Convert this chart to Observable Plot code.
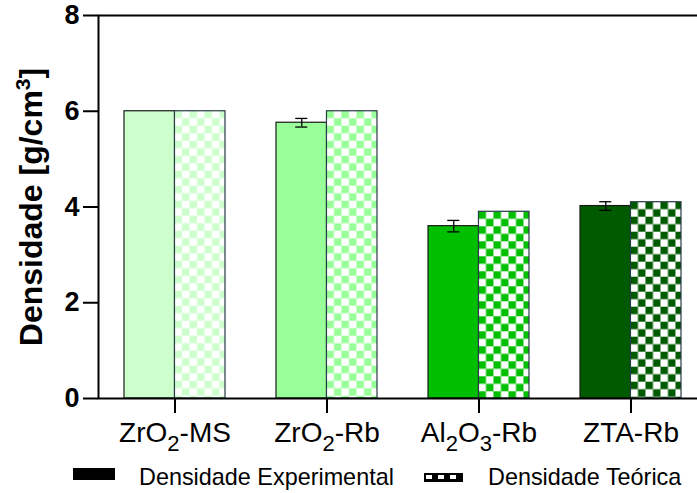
<!DOCTYPE html>
<html>
<head>
<meta charset="utf-8">
<script src="https://cdn.jsdelivr.net/npm/d3@7"></script>
<script src="https://cdn.jsdelivr.net/npm/@observablehq/plot@0.6"></script>
<style>
  html, body { margin: 0; padding: 0; background: #fff; overflow: hidden; }
  body { font-family: "Liberation Sans", Arial, sans-serif; color: #000; }
  #legend { position: relative; width: 697px; height: 38px; }
  #legend svg, #legend span { position: absolute; }
  #legend span { font-size: 23.4px; line-height: 23px; white-space: nowrap; }
</style>
</head>
<body>
<div id="chart"></div>
<div id="legend">
  <svg style="left:73px;top:13px" width="42" height="12"><rect width="42" height="12" fill="#000"/></svg>
  <span style="left:139px;top:11px">Densidade Experimental</span>
  <svg style="left:424px;top:18px" width="39" height="9">
    <rect width="39" height="9" fill="#000"/>
    <rect x="2" y="2" width="6" height="4" fill="#fff"/>
    <rect x="14" y="2" width="6" height="4" fill="#fff"/>
    <rect x="26" y="2" width="6" height="4" fill="#fff"/>
  </svg>
  <span style="left:488px;top:11px">Densidade Teórica</span>
</div>
<script>
// Density of each material: measured (with standard deviation) and theoretical, g/cm³
const categories = ["ZrO2-MS", "ZrO2-Rb", "Al2O3-Rb", "ZTA-Rb"];
const experimental = [6.00, 5.76, 3.60, 4.02];
const experimentalError = [0, 0.09, 0.12, 0.09];
const theoretical = [6.00, 6.00, 3.90, 4.10];
const barColors = ["#ccffcc", "#99ff99", "#00bf00", "#005a00"];
const yTicks = [0, 2, 4, 6, 8];
const yLabel = "Densidade [g/cm3]";

const rows = categories.map((cat, i) => ({
  cat,
  exp: experimental[i],
  err: experimentalError[i],
  theo: theoretical[i],
  color: barColors[i],
  pattern: `url(#checker-${i})`
}));

// band layout: each group holds two adjacent bars
const xRange = [98, 706];
const paddingInner = 0.336;
const step = (xRange[1] - xRange[0]) / categories.length;
const bw = step * (1 - paddingInner);
const half = bw / 2;
const cap = 6;
const cell = 7.5;

const chart = Plot.plot({
  width: 697,
  height: 455,
  marginLeft: 98,
  marginRight: -2,
  marginTop: 15,
  marginBottom: 57,
  style: { fontFamily: "Liberation Sans, Arial, sans-serif", color: "#000", background: "#fff" },
  x: { type: "band", domain: categories, range: xRange, paddingInner, paddingOuter: paddingInner / 2, align: 0.5 },
  y: { domain: [0, 8] },
  color: { type: "identity" },
  marks: [
    Plot.barY(rows, { x: "cat", y: "exp", fill: "color", stroke: "#1a1a1a", strokeWidth: 1.2, insetRight: half }),
    Plot.barY(rows, { x: "cat", y: "theo", fill: "pattern", stroke: "#2b3a48", strokeWidth: 1.2, insetLeft: half }),
    Plot.ruleX(rows.filter(d => d.err > 0), {
      x: "cat", y1: d => d.exp - d.err, y2: d => d.exp + d.err,
      dx: -half / 2, stroke: "#000", strokeWidth: 1.3
    }),
    Plot.tickY(rows.filter(d => d.err > 0), {
      x: "cat", y: d => d.exp + d.err, stroke: "#000", strokeWidth: 1.3,
      insetLeft: half / 2 - cap, insetRight: bw - half / 2 - cap
    }),
    Plot.tickY(rows.filter(d => d.err > 0), {
      x: "cat", y: d => d.exp - d.err, stroke: "#000", strokeWidth: 1.3,
      insetLeft: half / 2 - cap, insetRight: bw - half / 2 - cap
    }),
    Plot.frame({ stroke: "#000", strokeWidth: 2 }),
    Plot.axisY({ ticks: yTicks, tickSize: 15, tickPadding: 4, fontSize: 27, fontWeight: "bold", strokeWidth: 2, label: null }),
    Plot.axisX({ tickSize: 15, tickPadding: 9, fontSize: 28, strokeWidth: 2, label: null }),
    Plot.text([yLabel], {
      frameAnchor: "left", dx: -67, rotate: -90, fontSize: 32, fontWeight: "bold", textAnchor: "middle"
    })
  ]
});

document.getElementById("chart").appendChild(chart);

// checkerboard fills for the theoretical bars, anchored at each bar's top-left corner
const xs = chart.scale("x"), ys = chart.scale("y");
const defs = d3.select(chart).insert("defs", ":first-child");
rows.forEach((d, i) => {
  const x0 = xs.apply(d.cat) + half;
  const y0 = ys.apply(d.theo);
  const p = defs.append("pattern")
    .attr("id", `checker-${i}`)
    .attr("patternUnits", "userSpaceOnUse")
    .attr("x", x0).attr("y", y0)
    .attr("width", 2 * cell).attr("height", 2 * cell);
  p.append("rect").attr("width", 2 * cell).attr("height", 2 * cell).attr("fill", "#fff");
  p.append("rect").attr("width", cell).attr("height", cell).attr("fill", d.color);
  p.append("rect").attr("x", cell).attr("y", cell).attr("width", cell).attr("height", cell).attr("fill", d.color);
});

// chemical formulas: digits in the tick labels become subscripts
d3.select(chart).selectAll("g[aria-label='x-axis tick label'] text").each(function () {
  const label = this.textContent;
  const t = d3.select(this).text(null);
  let shifted = false;
  label.split(/(\d)/).filter(s => s.length).forEach(part => {
    if (/^\d$/.test(part)) {
      t.append("tspan").attr("font-size", 22).attr("dy", shifted ? 0 : 9).text(part);
      shifted = true;
    } else {
      t.append("tspan").attr("dy", shifted ? -9 : 0).text(part);
      shifted = false;
    }
  });
});

// unit exponent in the y-axis title
d3.select(chart).selectAll("text").filter(function () { return this.textContent === yLabel; }).each(function () {
  const t = d3.select(this).text(null);
  t.append("tspan").text("Densidade [g/cm");
  t.append("tspan").attr("font-size", 21).attr("dy", -12).text("3");
  t.append("tspan").attr("dy", 12).text("]");
});
</script>
</body>
</html>
